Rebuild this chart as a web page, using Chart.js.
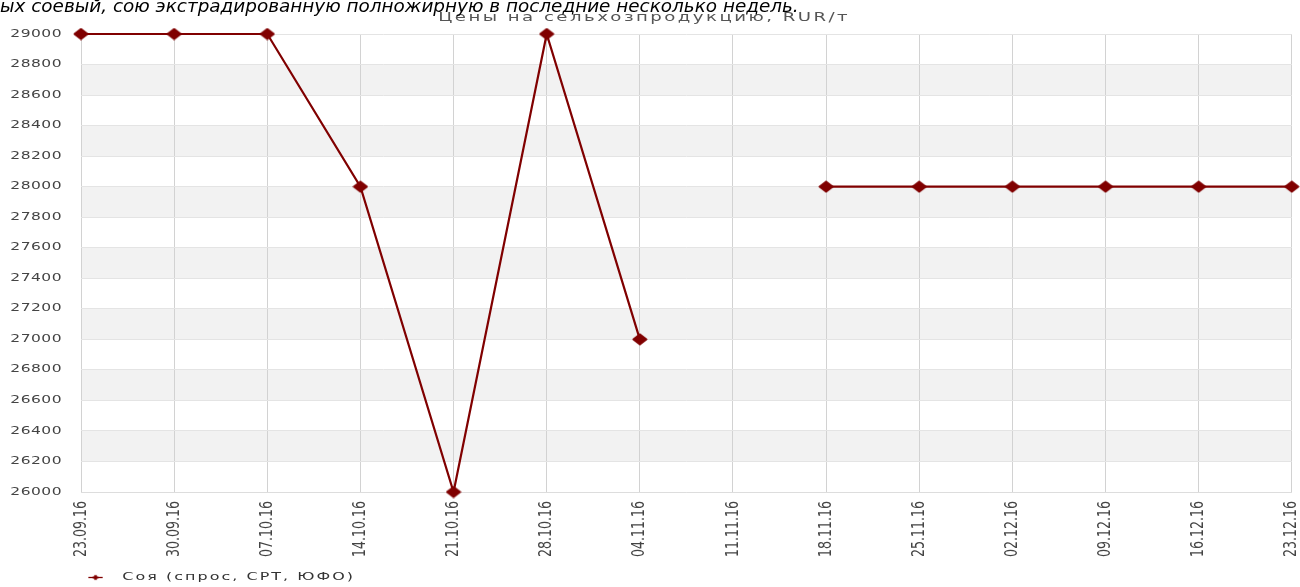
<!DOCTYPE html>
<html>
<head>
<meta charset="utf-8">
<script src="https://cdn.jsdelivr.net/npm/chart.js@4"></script>
<style>
  body { margin: 0; background: #fff; overflow: hidden; }
  #wrap { position: relative; width: 1300px; height: 587px; }
  #note { position: absolute; left: 0; top: -4px; font: italic 18.4px 'DejaVu Sans', sans-serif; line-height: 20px; color: #000; white-space: nowrap; z-index: 2; }
  canvas { position: absolute; left: 0; top: 0; }
</style>
</head>
<body>
<div id="wrap">
  <div id="note">ых соевый, сою экстрадированную полножирную в последние несколько недель.</div>
  <canvas id="price-chart" width="1300" height="587"></canvas>
</div>
<script>
let weeks = ['23.09.16','30.09.16','07.10.16','14.10.16','21.10.16','28.10.16','04.11.16','11.11.16','18.11.16','25.11.16','02.12.16','09.12.16','16.12.16','23.12.16'];
let soyPrices = [29000, 29000, 29000, 28000, 26000, 29000, 27000, null, 28000, 28000, 28000, 28000, 28000, 28000];
let seriesName = 'Соя (спрос, СРТ, ЮФО)';
let chartTitle = 'Цены на сельхозпродукцию, RUR/т';

let darkRed = '#800000';

// flattened diamond used for the points
let dot = document.createElement('canvas');
dot.width = 16;
dot.height = 13;
let d = dot.getContext('2d');
d.fillStyle = darkRed;
d.strokeStyle = darkRed;
d.lineJoin = 'round';
d.lineWidth = 2;
d.beginPath(); d.moveTo(1.5, 6.5); d.lineTo(8, 1.5); d.lineTo(14.5, 6.5); d.lineTo(8, 11.5); d.closePath();
d.fill(); d.stroke();

// legend marker: short line with a small diamond (gets stretched with the legend)
let marker = document.createElement('canvas');
marker.width = 23;
marker.height = 9;
let m = marker.getContext('2d');
m.strokeStyle = darkRed;
m.lineWidth = 1.3;
m.beginPath(); m.moveTo(5, 4.5); m.lineTo(15, 4.5); m.stroke();
m.fillStyle = darkRed;
m.beginPath(); m.moveTo(10, 1.5); m.lineTo(12.2, 4.5); m.lineTo(10, 7.5); m.lineTo(7.8, 4.5); m.closePath(); m.fill();

// the original text is wide and spaced: stretch it horizontally around an anchor x
function stretch(obj, fn, px, sx, anchor) {
  let orig = obj[fn];
  obj[fn] = function (...args) {
    let c = this.ctx;
    let x0 = anchor(this);
    c.save();
    c.letterSpacing = px;
    c.translate(x0, 0);
    c.scale(sx, 1);
    c.translate(-x0, 0);
    orig.apply(this, args);
    c.restore();
  };
}

// rotated date labels: make the glyphs thicker across (screen x) like the original
function thickLabels(scale, sy) {
  let orig = scale.drawLabels;
  scale.drawLabels = function (...args) {
    let c = this.ctx;
    let fill = c.fillText;
    c.fillText = function (t, x, y, w) {
      this.save();
      this.scale(1, sy);
      fill.call(this, t, x, y / sy, w);
      this.restore();
    };
    orig.apply(this, args);
    c.fillText = fill;
  };
}

// grey bands between every other pair of y ticks
let bands = {
  id: 'bands',
  beforeDraw(chart) {
    let ctx = chart.ctx;
    let y = chart.scales.y;
    let area = chart.chartArea;
    ctx.save();
    ctx.fillStyle = '#f2f2f2';
    for (let i = 1; i < y.ticks.length - 1; i += 2) {
      let top = y.getPixelForValue(y.ticks[i + 1].value);
      let bottom = y.getPixelForValue(y.ticks[i].value);
      ctx.fillRect(area.left, top, area.right - area.left, bottom - top);
    }
    ctx.restore();
    if (!chart._stretched) {
      stretch(chart.scales.y, 'drawLabels', '0.3px', 1.55, (s) => s.right - s.options.ticks.padding);
      stretch(chart.titleBlock, 'draw', '1.7px', 1.45, () => chart.width / 2);
      stretch(chart.legend, 'draw', '1.4px', 1.45, (l) => l.left);
      thickLabels(chart.scales.x, 1.25);
      chart._stretched = true;
    }
  }
};

let priceChart = new Chart(document.getElementById('price-chart').getContext('2d'), {
  type: 'line',
  data: {
    labels: weeks,
    datasets: [{
      label: seriesName,
      data: soyPrices,
      borderColor: darkRed,
      backgroundColor: darkRed,
      borderWidth: 2.2,
      pointStyle: dot,
      pointRadius: 6,
      spanGaps: false,
      tension: 0,
      clip: false
    }]
  },
  options: {
    responsive: false,
    animation: false,
    layout: {
      padding: { left: 0, right: 8, top: 0, bottom: -6 }
    },
    scales: {
      x: {
        offset: false,
        grid: { color: '#d2d2d2', drawTicks: false },
        border: { color: '#dddddd' },
        ticks: {
          autoSkip: false,
          minRotation: 90,
          maxRotation: 90,
          padding: 9,
          color: '#444',
          font: { family: "'DejaVu Sans Condensed', 'Liberation Sans Narrow', sans-serif", size: 14 }
        },
        afterFit(scale) {
          scale.height = 80;
          scale.paddingLeft = 0;
          scale.paddingRight = 0;
        }
      },
      y: {
        min: 26000,
        max: 29000,
        grid: { color: '#e4e4e4', drawTicks: false },
        border: { display: false },
        ticks: {
          stepSize: 200,
          padding: 19,
          color: '#444',
          font: { family: "'DejaVu Sans', sans-serif", size: 10 },
          callback: (v) => String(v)
        },
        afterFit(scale) { scale.width = 81; }
      }
    },
    plugins: {
      title: {
        display: true,
        text: chartTitle,
        color: '#555',
        font: { family: "'DejaVu Sans', sans-serif", size: 12.5, weight: 'normal' },
        padding: { top: 10, bottom: 9 }
      },
      legend: {
        display: true,
        position: 'bottom',
        align: 'start',
        fullSize: false,
        labels: {
          usePointStyle: true,
          pointStyle: marker,
          pointStyleWidth: 23,
          padding: 0,
          color: '#333',
          font: { family: "'DejaVu Sans', sans-serif", size: 11 }
        }
      },
      tooltip: { enabled: false }
    }
  },
  plugins: [bands]
});
</script>
</body>
</html>
